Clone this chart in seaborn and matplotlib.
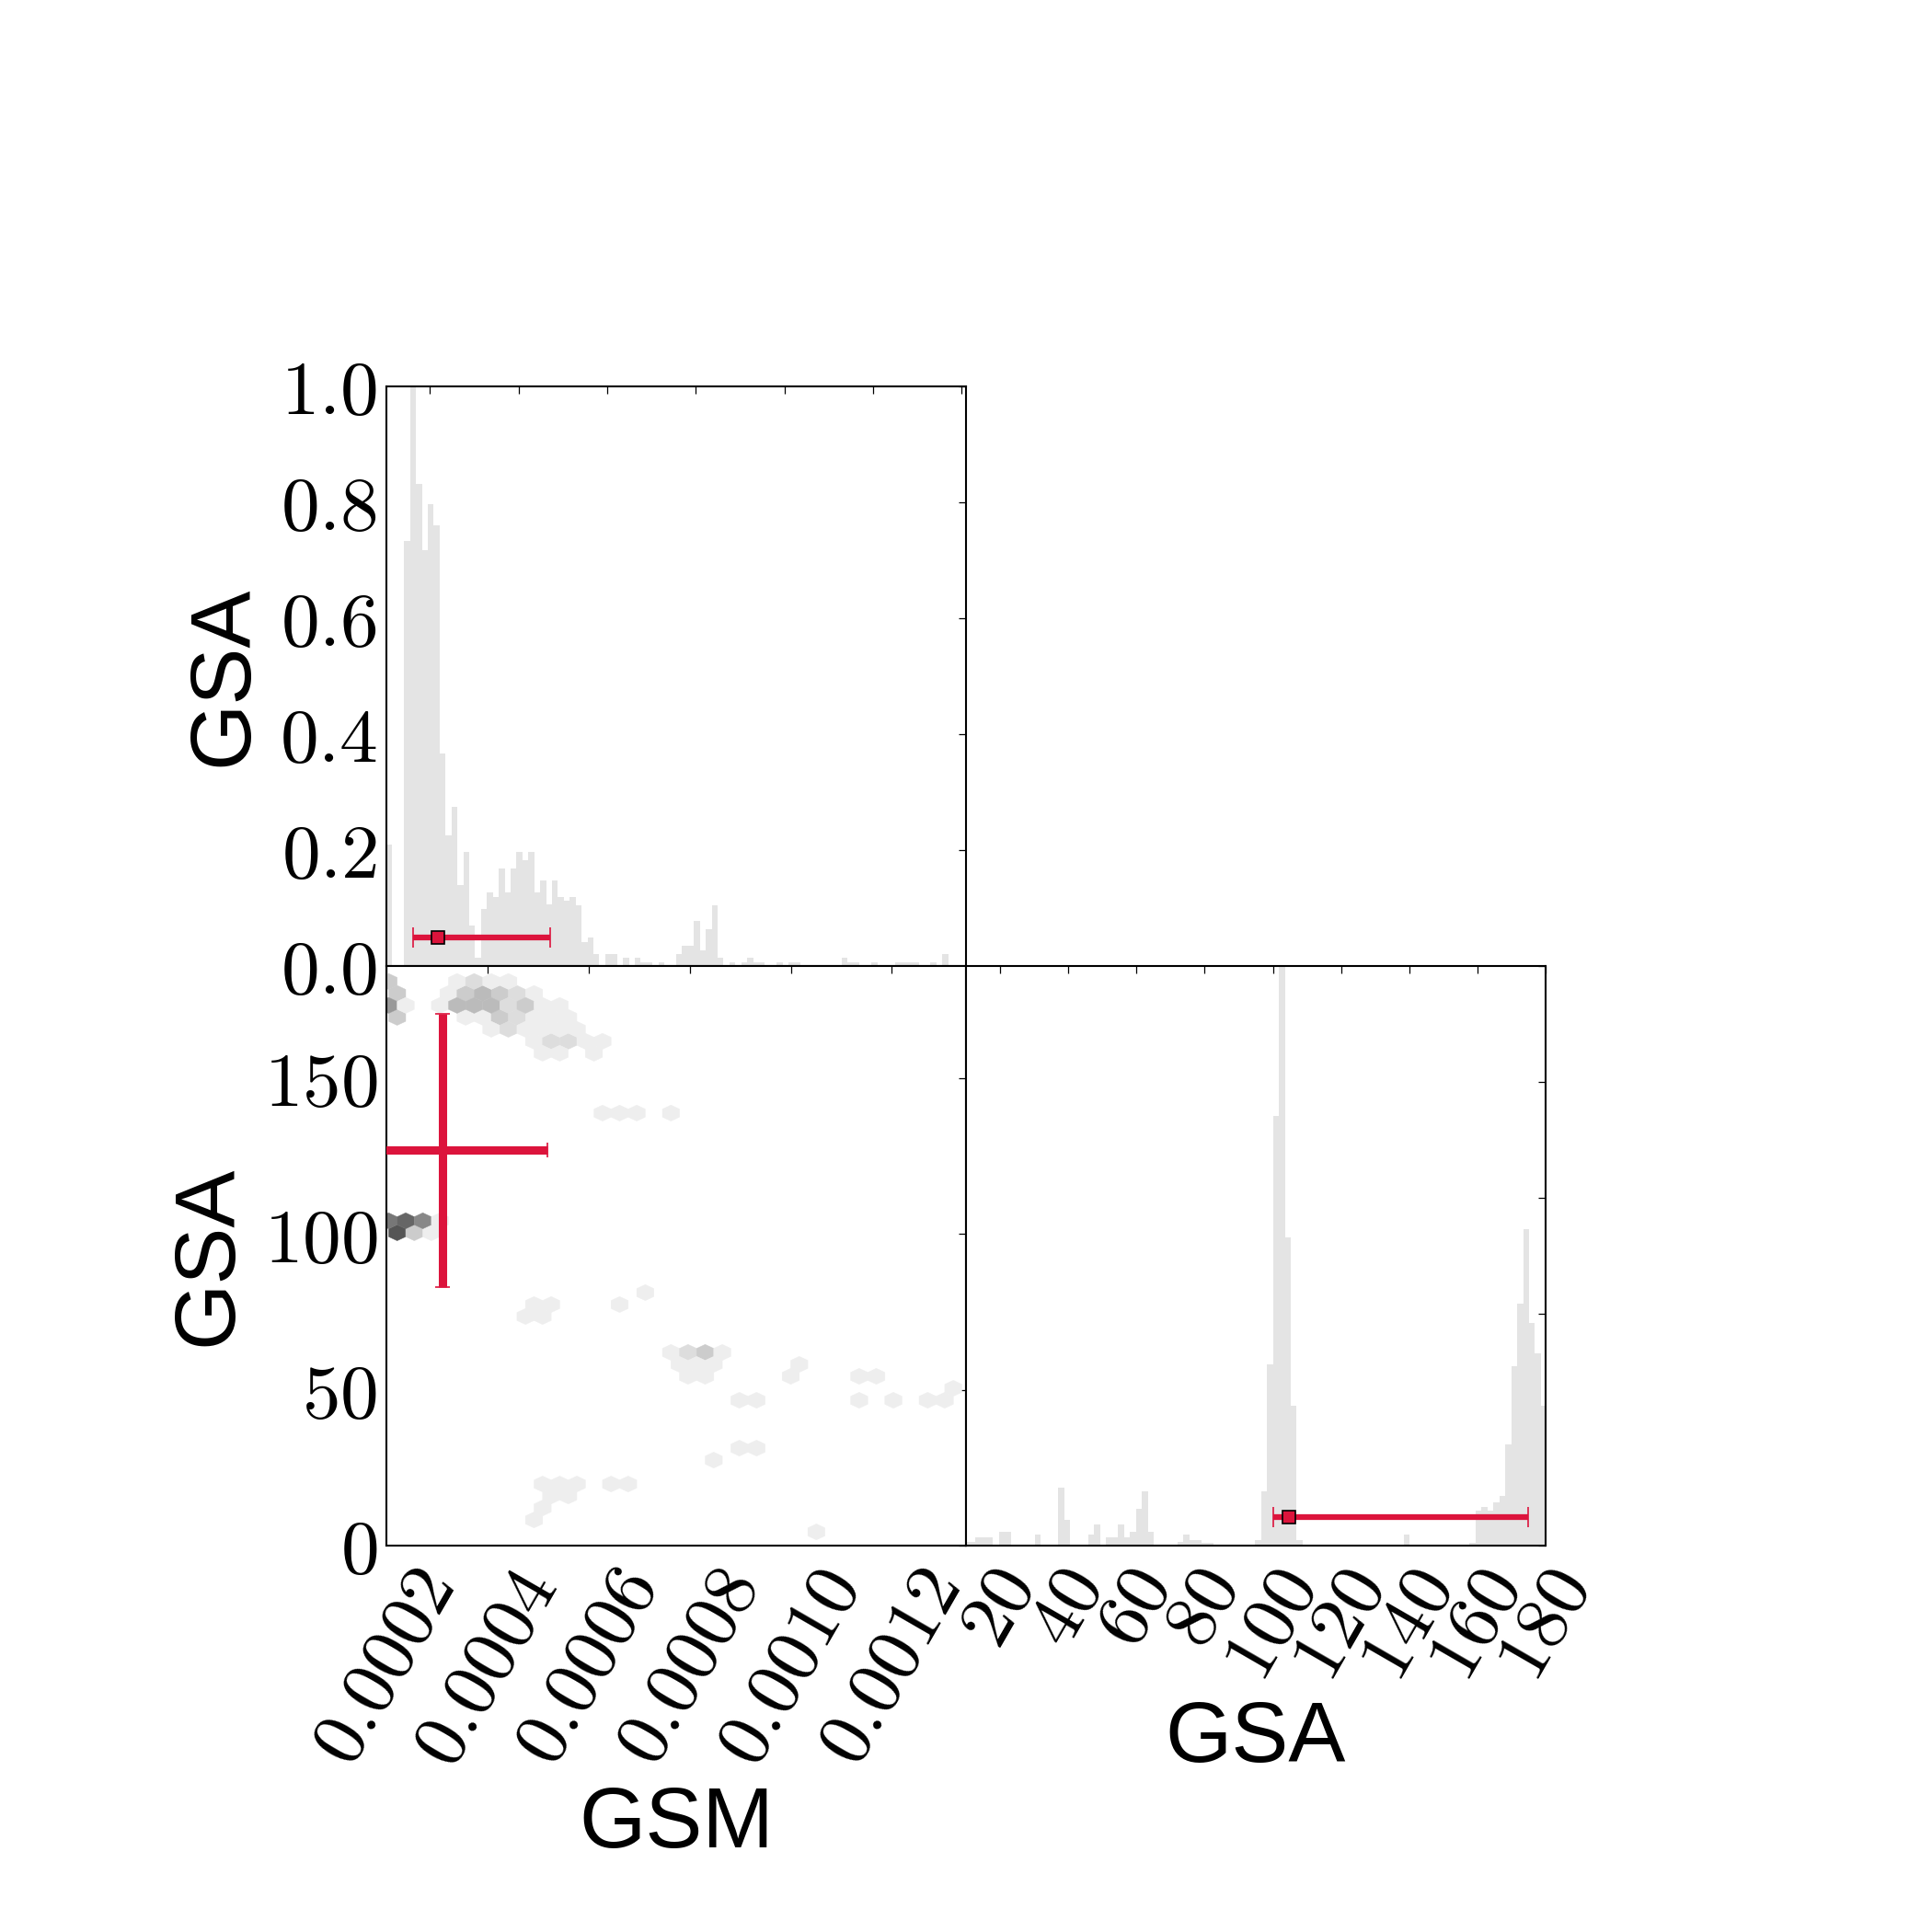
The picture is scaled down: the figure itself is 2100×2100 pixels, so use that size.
import numpy as np
import pandas as pd
import matplotlib
matplotlib.use("Agg")
import matplotlib.pyplot as plt
import seaborn as sns
from matplotlib.colors import LinearSegmentedColormap

# ---------------- data ----------------
# GSM marginal histogram (normalised to peak = 1), 98 equal bins over this range
gsm_hist_range = (0.0001017, 0.0014098)
gsm_hist_heights = [
    0.21, 0.0, 0.0, 0.733, 1.0, 0.832, 0.718, 0.797, 0.761, 0.367,
    0.226, 0.275, 0.14, 0.197, 0.07, 0.014, 0.098, 0.127, 0.119, 0.169,
    0.127, 0.169, 0.197, 0.183, 0.197, 0.127, 0.147, 0.106, 0.147, 0.119,
    0.113, 0.119, 0.105, 0.042, 0.049, 0.02, 0.0, 0.02, 0.02, 0.0,
    0.014, 0.0, 0.014, 0.007, 0.007, 0.0, 0.007, 0.0, 0.0, 0.02,
    0.035, 0.035, 0.078, 0.027, 0.064, 0.105, 0.014, 0.0, 0.007, 0.0,
    0.007, 0.014, 0.007, 0.007, 0.0, 0.0, 0.007, 0.0, 0.007, 0.007,
    0.0, 0.0, 0.0, 0.0, 0.0, 0.0, 0.0, 0.014, 0.007, 0.007,
    0.0, 0.0, 0.007, 0.0, 0.0, 0.0, 0.007, 0.007, 0.007, 0.007,
    0.0, 0.0, 0.007, 0.0, 0.02, 0.0, 0.0, 0.0,
]
gsm_top_ticks = [0.0002, 0.0004, 0.0006, 0.0008, 0.0010, 0.0012, 0.0014]

# GSA marginal histogram (normalised to peak = 1), 100 equal bins over this range
gsa_hist_range = (5.64, 180.39)
gsa_hist_heights = [
    0.0, 0.0, 0.007, 0.007, 0.014, 0.014, 0.014, 0.0, 0.024, 0.024,
    0.0, 0.0, 0.0, 0.0, 0.019, 0.0, 0.0, 0.0, 0.1, 0.044,
    0.0, 0.0, 0.0, 0.019, 0.037, 0.0, 0.014, 0.014, 0.037, 0.014,
    0.024, 0.063, 0.094, 0.024, 0.0, 0.0, 0.0, 0.0, 0.007, 0.019,
    0.009, 0.009, 0.005, 0.005, 0.0, 0.0, 0.0, 0.0, 0.0, 0.0,
    0.0, 0.009, 0.094, 0.313, 0.741, 1.0, 0.532, 0.241, 0.009, 0.0,
    0.0, 0.0, 0.0, 0.0, 0.0, 0.0, 0.0, 0.0, 0.0, 0.0,
    0.0, 0.0, 0.0, 0.0, 0.0, 0.0, 0.019, 0.0, 0.0, 0.0,
    0.0, 0.0, 0.0, 0.0, 0.0, 0.0, 0.0, 0.005, 0.06, 0.067,
    0.06, 0.075, 0.085, 0.175, 0.309, 0.418, 0.546, 0.384, 0.332, 0.241,
]

# 2-D hexbin cells: GSM, GSA, count
hex_gsm = [
    0.00020437, 0.00033976, 0.00037361, 0.00040746, 0.00044131,
    0.00022129, 0.00032284, 0.00035669, 0.00039054, 0.00042438, 0.00045823, 0.00049208,
    0.00020437, 0.00023822, 0.00030591, 0.00033976, 0.00037361, 0.00040746, 0.00044131,
    0.00047516, 0.00050901, 0.00054285,
    0.00022129, 0.00035669, 0.00039054, 0.00042438, 0.00045823, 0.00049208, 0.00052593,
    0.00055978,
    0.00040746, 0.00044131, 0.00047516, 0.00050901, 0.00054285, 0.00057670,
    0.00049208, 0.00052593, 0.00055978, 0.00059363, 0.00062748,
    0.00050901, 0.00054285, 0.00061055,
    0.00062748, 0.00066133, 0.00069518, 0.00076287,
    0.00020437, 0.00023822, 0.00027206, 0.00030591,
    0.00022129, 0.00025514, 0.00028899,
    0.00071210,
    0.00049208, 0.00052593, 0.00066133,
    0.00047516, 0.00050901,
    0.00076287, 0.00079672, 0.00083057, 0.00086442,
    0.00077980, 0.00081365, 0.00084750, 0.00101674,
    0.00079672, 0.00083057, 0.00099982, 0.00113521, 0.00116906,
    0.00132138,
    0.00089827, 0.00093212, 0.00113521, 0.00120291, 0.00127061, 0.00130446,
    0.00089827, 0.00093212,
    0.00084750,
    0.00050901, 0.00054285, 0.00057670, 0.00064440, 0.00067825,
    0.00052593, 0.00055978,
    0.00050901,
    0.00049208,
    0.00105059,
]
hex_gsa = [
    181.04, 181.04, 181.04, 181.04, 181.04,
    177.2, 177.2, 177.2, 177.2, 177.2, 177.2, 177.2,
    173.36, 173.36, 173.36, 173.36, 173.36, 173.36, 173.36, 173.36, 173.36, 173.36,
    169.52, 169.52, 169.52, 169.52, 169.52, 169.52, 169.52, 169.52,
    165.68, 165.68, 165.68, 165.68, 165.68, 165.68,
    161.84, 161.84, 161.84, 161.84, 161.84,
    158.0, 158.0, 158.0,
    138.8, 138.8, 138.8, 138.8,
    104.24, 104.24, 104.24, 104.24,
    100.4, 100.4, 100.4,
    81.2,
    77.36, 77.36, 77.36,
    73.52, 73.52,
    62.0, 62.0, 62.0, 62.0,
    58.16, 58.16, 58.16, 58.16,
    54.32, 54.32, 54.32, 54.32, 54.32,
    50.48,
    46.64, 46.64, 46.64, 46.64, 46.64, 46.64,
    31.28, 31.28,
    27.44,
    19.76, 19.76, 19.76, 19.76, 19.76,
    15.92, 15.92,
    12.08,
    8.24,
    4.4,
]
hex_count = [
    3, 1, 2, 1, 1,
    3, 1, 3, 4, 3, 2, 1,
    6, 1, 1, 4, 4, 4, 2, 3, 1, 1,
    3, 1, 1, 3, 2, 1, 1, 1,
    1, 2, 1, 1, 1, 1,
    1, 2, 2, 1, 1,
    1, 1, 1,
    1, 1, 1, 1,
    8, 9, 7, 1,
    10, 3, 1,
    1,
    1, 1, 1,
    1, 1,
    1, 2, 3, 1,
    1, 1, 1, 1,
    1, 1, 1, 1, 1,
    1,
    1, 1, 1, 1, 1, 1,
    1, 1,
    1,
    1, 1, 1, 1, 1,
    1, 1,
    1,
    1,
    1,
]

# summary statistics shown as red error bars
top_gsm_center, top_gsm_low, top_gsm_high = 0.0002187, 0.0001618, 0.0004707
gsa_center, gsa_low, gsa_high = 104.6, 100.0, 175.0
marker_level = 0.05
cross_gsm_center, cross_gsm_low, cross_gsm_high = 0.0003104, 0.0001, 0.0005193
cross_gsa_center, cross_gsa_low, cross_gsa_high = 126.9, 83.0, 170.7

# axes ticks / labels
gsm_ticks = [0.0002, 0.0004, 0.0006, 0.0008, 0.0010, 0.0012]
gsm_ticklabels = ["0.0002", "0.0004", "0.0006", "0.0008", "0.0010", "0.0012"]
gsa_ticks = [20, 40, 60, 80, 100, 120, 140, 160, 180]
gsa_ticklabels = ["20", "40", "60", "80", "100", "120", "140", "160", "180"]
gsa_yticks = [0, 50, 100, 150]
gsa_yticklabels = ["0", "50", "100", "150"]
frac_ticks = [0.0, 0.2, 0.4, 0.6, 0.8, 1.0]
frac_ticklabels = ["0.0", "0.2", "0.4", "0.6", "0.8", "1.0"]

# ---------------- style ----------------
sns.set_style("white")
plt.rcParams["font.family"] = ["Liberation Sans", "DejaVu Sans"]
plt.rcParams["mathtext.fontset"] = "cm"
for k in ("text.color", "axes.labelcolor", "xtick.color", "ytick.color",
          "axes.edgecolor"):
    plt.rcParams[k] = "black"

HIST_COLOR = "#e4e4e4"
RED = "#dc143c"
TICK_FS = 60
LABEL_FS = 67

fig, axs = plt.subplots(2, 2, figsize=(21, 21), dpi=100)
fig.subplots_adjust(left=0.2, right=0.8, bottom=0.2, top=0.8, wspace=0, hspace=0)
ax_tl, ax_tr = axs[0]
ax_bl, ax_br = axs[1]
ax_tr.axis("off")

def hist_panel(ax, rng, heights):
    n = len(heights)
    edges = np.linspace(rng[0], rng[1], n + 1)
    centers = 0.5 * (edges[:-1] + edges[1:])
    df = pd.DataFrame({"value": centers, "height": np.asarray(heights, float)})
    sns.histplot(data=df, x="value", weights="height", bins=n, binrange=rng,
                 stat="count", element="step", fill=True, color=HIST_COLOR,
                 alpha=1, linewidth=0, ax=ax)

# top-left: GSM histogram
hist_panel(ax_tl, gsm_hist_range, gsm_hist_heights)
ax_tl.errorbar([top_gsm_center], [marker_level],
               xerr=[[top_gsm_center - top_gsm_low], [top_gsm_high - top_gsm_center]],
               fmt="s", color=RED, mfc=RED, mec="black", mew=1.2, ms=10,
               elinewidth=4.5, capsize=7.8, capthick=1.0, zorder=5)
ax_tl.set_xlim(*gsm_hist_range)
ax_tl.set_ylim(0, 1)
ax_tl.set_xticks(gsm_top_ticks)
ax_tl.set_yticks(frac_ticks, ["$%s$" % t for t in frac_ticklabels])
ax_tl.tick_params(axis="x", labelbottom=False)
ax_tl.set_xlabel("")
ax_tl.set_ylabel("GSA", fontsize=LABEL_FS, labelpad=12)

# bottom-right: GSA histogram
hist_panel(ax_br, gsa_hist_range, gsa_hist_heights)
ax_br.errorbar([gsa_center], [marker_level],
               xerr=[[gsa_center - gsa_low], [gsa_high - gsa_center]],
               fmt="s", color=RED, mfc=RED, mec="black", mew=1.2, ms=10,
               elinewidth=4.5, capsize=7.8, capthick=1.0, zorder=5)
ax_br.set_xlim(10, 180)
ax_br.set_ylim(0, 1)
ax_br.set_xticks(gsa_ticks, ["$%s$" % t for t in gsa_ticklabels])
ax_br.set_yticks(frac_ticks)
ax_br.tick_params(axis="y", labelleft=False)
ax_br.set_ylabel("")
ax_br.set_xlabel("GSA", fontsize=LABEL_FS, labelpad=6)

# bottom-left: hexbin of GSM vs GSA
cmap = LinearSegmentedColormap.from_list("w2k", ["#ffffff", "#000000"])
hx_xmin, hx_xmax, hx_ymin, hx_ymax = 0.00018744, 0.00133831, 0.56, 184.88
ax_bl.hexbin(hex_gsm, hex_gsa, C=hex_count, reduce_C_function=np.sum,
             gridsize=(34, 24), extent=(hx_xmin, hx_xmax, hx_ymin, hx_ymax),
             cmap=cmap, vmin=0, vmax=15, linewidths=0.3, edgecolors="face")
ax_bl.errorbar([cross_gsm_center], [cross_gsa_center],
               xerr=[[cross_gsm_center - cross_gsm_low], [cross_gsm_high - cross_gsm_center]],
               yerr=[[cross_gsa_center - cross_gsa_low], [cross_gsa_high - cross_gsa_center]],
               fmt="none", ecolor=RED, elinewidth=6.5, capsize=6, capthick=1.2, zorder=5)
ax_bl.set_xlim(0.0002, 0.0013465)
ax_bl.set_ylim(0, 186)
ax_bl.set_xticks(gsm_ticks, ["$%s$" % t for t in gsm_ticklabels])
ax_bl.set_yticks(gsa_yticks, ["$%s$" % t for t in gsa_yticklabels])
ax_bl.set_xlabel("GSM", fontsize=LABEL_FS, labelpad=6)
ax_bl.set_ylabel("GSA", fontsize=LABEL_FS, labelpad=12)

for ax in (ax_tl, ax_bl, ax_br):
    ax.tick_params(direction="in", top=True, right=True, length=5.8, width=0.9,
                   labelsize=TICK_FS, pad=7, color="black", labelcolor="black")
    for s in ax.spines.values():
        s.set_linewidth(1.5)
        s.set_color("black")
        s.set_visible(True)

for ax in (ax_bl, ax_br):
    ax.tick_params(axis="x", labelrotation=60, pad=10)

fig.savefig("out.png", dpi=100, facecolor="white")
